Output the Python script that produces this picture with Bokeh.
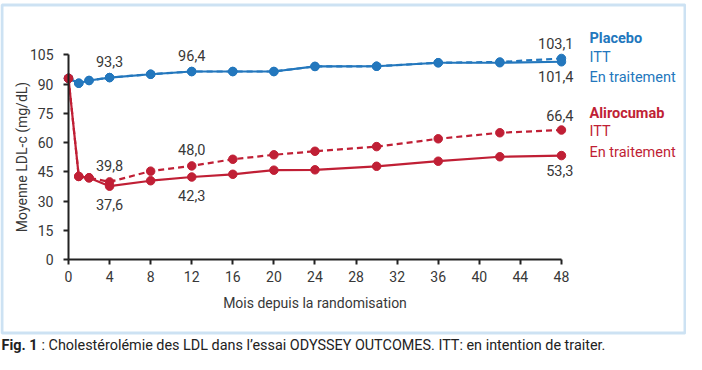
from bokeh.plotting import figure
from bokeh.models import Range1d, FixedTicker, BoxAnnotation, ColumnDataSource
from bokeh.core.properties import value
from bokeh.embed import file_html
from bokeh.resources import INLINE

# ---------------- data ----------------
months = [0, 1, 2, 4, 8, 12, 16, 20, 24, 30, 36, 42, 48]
placebo_ontreat = [92.9, 90.4, 91.8, 93.3, 95.0, 96.4, 96.4, 96.4, 99.0, 99.1, 100.9, 100.9, 101.4]
placebo_itt = [92.9, 90.4, 91.8, 93.3, 95.0, 96.4, 96.4, 96.4, 99.0, 99.1, 100.9, 101.3, 103.1]
aliro_ontreat = [92.9, 42.6, 41.9, 37.6, 40.4, 42.3, 43.7, 45.8, 46.0, 47.8, 50.4, 52.7, 53.3]
aliro_itt = [92.9, 42.6, 41.9, 39.8, 45.3, 48.0, 51.4, 53.7, 55.5, 57.9, 61.9, 65.0, 66.4]

x_ticks = [0, 4, 8, 12, 16, 20, 24, 28, 32, 36, 40, 44, 48]
y_ticks = [0, 15, 30, 45, 60, 75, 90, 105]

# value annotations: (month, value, text)
ann_above = [(4, 93.3, "93,3"), (12, 96.4, "96,4"), (4, 39.8, "39,8"), (12, 48.0, "48,0")]
ann_below = [(4, 37.6, "37,6"), (12, 42.3, "42,3")]
end_above = [(48, 103.1, "103,1"), (48, 66.4, "66,4")]
end_below = [(48, 101.4, "101,4"), (48, 53.3, "53,3")]

legend_placebo = ["Placebo", "ITT", "En traitement"]
legend_aliro = ["Alirocumab", "ITT", "En traitement"]

caption_bold = "Fig. 1"
caption_rest = ": Cholestérolémie des LDL dans l\u2019essai ODYSSEY OUTCOMES. ITT: en intention de traiter."

# ---------------- layout / style ----------------
W, H = 686, 354
X0_PX, X_PX = 68.0, 10.27     # figure pixel of month 0, pixels per month
Y0_PX, Y_PX = 259.0, 1.95     # figure pixel (from top) of value 0, pixels per unit

def fx(px):
    return (px - X0_PX) / X_PX

def fy(py):
    return (Y0_PX - py) / Y_PX

BLUE = "#2377bd"
RED = "#c01f35"
TXT = "#383838"
FONT = value("Roboto")
FS = "14.5px"

p = figure(width=W, height=H, output_backend="svg", toolbar_location=None,
           x_range=Range1d(fx(0), fx(W)), y_range=Range1d(fy(H), fy(0)),
           min_border=0, min_border_left=0, min_border_right=0,
           min_border_top=0, min_border_bottom=0)
p.outline_line_color = None
p.grid.visible = False
p.background_fill_color = "white"
p.border_fill_color = "white"

for ax, ticks, bnds in ((p.xaxis, x_ticks, (0, 48)), (p.yaxis, y_ticks, (0, 105))):
    ax.fixed_location = 0
    ax.bounds = bnds
    ax.ticker = FixedTicker(ticks=ticks)
    ax.axis_line_color = "#222222"
    ax.axis_line_width = 2
    ax.major_tick_line_color = "#222222"
    ax.major_tick_line_width = 2
    ax.major_tick_out = 5
    ax.major_tick_in = 0
    ax.minor_tick_line_color = None
    ax.major_label_text_font = "Roboto"
    ax.major_label_text_font_size = "14px"
    ax.major_label_text_color = TXT
    ax.axis_label_text_font = "Roboto"
    ax.axis_label_text_font_size = "14px"
    ax.axis_label_text_font_style = "normal"
    ax.axis_label_text_color = TXT

p.xaxis.axis_label = "Mois depuis la randomisation"
p.xaxis.major_label_standoff = 6
p.xaxis.axis_label_standoff = 10
p.yaxis.axis_label = "Moyenne LDL-c (mg/dL)"
p.yaxis.major_label_standoff = 10
p.yaxis.axis_label_standoff = -3

# frame border
p.add_layout(BoxAnnotation(left=fx(1.5), right=fx(684.5), top=fy(4.5), bottom=fy(332.5),
                           fill_alpha=0, line_color="#5aa0d8", line_width=3))

# series
series = [
    (placebo_itt, BLUE, "dashed"),
    (placebo_ontreat, BLUE, "solid"),
    (aliro_itt, RED, "dashed"),
    (aliro_ontreat, RED, "solid"),
]
for vals, col, dash in series:
    src = ColumnDataSource(dict(x=months, y=vals))
    p.line("x", "y", source=src, line_color=col, line_width=2.2,
           line_dash="6 4" if dash == "dashed" else "solid")
    p.scatter("x", "y", source=src, size=8.5, fill_color=col, line_color=col)

def add_text(xs, ys, texts, align, baseline="middle", color=TXT, style="normal", size=FS, xoff=0, yoff=0):
    src = ColumnDataSource(dict(x=xs, y=ys, t=texts))
    p.text("x", "y", text="t", source=src, text_font=FONT, text_font_size=size,
           text_color=color, text_align=align, text_baseline=baseline,
           text_font_style=style, x_offset=xoff, y_offset=yoff)

# value labels
add_text([a[0] for a in ann_above], [a[1] + 16.5 / Y_PX for a in ann_above], [a[2] for a in ann_above], "center")
add_text([a[0] for a in ann_below], [a[1] - 18 / Y_PX for a in ann_below], [a[2] for a in ann_below], "center")
add_text([a[0] for a in end_above], [a[1] + 15 / Y_PX for a in end_above], [a[2] for a in end_above], "right", xoff=12)
add_text([a[0] for a in end_below], [a[1] - 15 / Y_PX for a in end_below], [a[2] for a in end_below], "right", xoff=12)

# legend texts
lx = fx(589)
add_text([lx], [fy(38)], [legend_placebo[0]], "left", color=BLUE, style="bold")
add_text([lx, lx], [fy(57), fy(77)], legend_placebo[1:], "left", color=BLUE)
add_text([lx], [fy(113)], [legend_aliro[0]], "left", color=RED, style="bold")
add_text([lx, lx], [fy(131), fy(152)], legend_aliro[1:], "left", color=RED)

# caption
add_text([fx(1)], [fy(345)], [caption_bold], "left", color="#222222", style="bold", size="14.4px")
add_text([fx(41)], [fy(345)], [caption_rest], "left", color="#222222", size="14.4px")

open("out.html", "w").write(file_html(p, INLINE))
